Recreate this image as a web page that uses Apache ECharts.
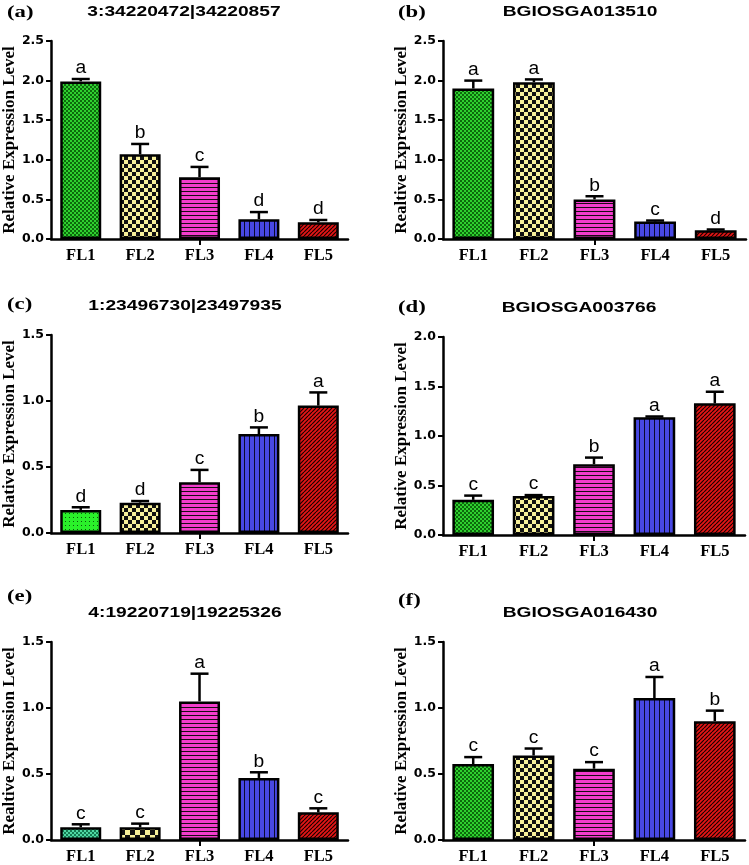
<!DOCTYPE html>
<html>
<head>
<meta charset="utf-8">
<script src="https://cdn.jsdelivr.net/npm/echarts@6/dist/echarts.min.js"></script>
<style>
html,body{margin:0;padding:0;background:#fff;}
#chart{width:749px;height:865px;}
</style>
</head>
<body>
<div id="chart"></div>
<script>
const categories = ['FL1', 'FL2', 'FL3', 'FL4', 'FL5'];

const panelTags = ['(a)', '(b)', '(c)', '(d)', '(e)', '(f)'];
const panelTitles = ['3:34220472|34220857', 'BGIOSGA013510', '1:23496730|23497935', 'BGIOSGA003766', '4:19220719|19225326', 'BGIOSGA016430'];
const yAxisNames = ['Relative Expression Level', 'Realtive Expression Level', 'Relative Expression Level', 'Relative Expression Level', 'Realtive Expression Level', 'Relative Expression Level'];
const yAxisMax = [2.5, 2.5, 1.5, 2.0, 1.5, 1.5];
const yTickInterval = [0.5, 0.5, 0.5, 0.5, 0.5, 0.5];

const aValues = [1.99, 1.07, 0.78, 0.25, 0.21];
const aErrors = [0.03, 0.13, 0.13, 0.09, 0.03];
const aLetters = ['a', 'b', 'c', 'd', 'd'];

const bValues = [1.90, 1.98, 0.50, 0.22, 0.11];
const bErrors = [0.10, 0.035, 0.04, 0.013, 0.01];
const bLetters = ['a', 'a', 'b', 'c', 'd'];

const cValues = [0.175, 0.23, 0.385, 0.75, 0.965];
const cErrors = [0.02, 0.012, 0.093, 0.05, 0.10];
const cLetters = ['d', 'd', 'c', 'b', 'a'];

const dValues = [0.355, 0.395, 0.715, 1.19, 1.33];
const dErrors = [0.043, 0.008, 0.067, 0.007, 0.117];
const dLetters = ['c', 'c', 'b', 'a', 'a'];

const eValues = [0.097, 0.096, 1.05, 0.47, 0.21];
const eErrors = [0.022, 0.028, 0.21, 0.043, 0.03];
const eLetters = ['c', 'c', 'a', 'b', 'c'];

const fValues = [0.575, 0.64, 0.54, 1.075, 0.90];
const fErrors = [0.053, 0.053, 0.05, 0.16, 0.08];
const fLetters = ['c', 'c', 'c', 'a', 'b'];

const allValues = [aValues, bValues, cValues, dValues, eValues, fValues];
const allErrors = [aErrors, bErrors, cErrors, dErrors, eErrors, fErrors];
const allLetters = [aLetters, bLetters, cLetters, dLetters, eLetters, fLetters];

// ---------- layout / style ----------
const grids = [
  {left: 50, top: 41, width: 298, height: 198},
  {left: 443, top: 41, width: 303, height: 198},
  {left: 50, top: 335, width: 298, height: 198},
  {left: 443, top: 337, width: 302, height: 198},
  {left: 50, top: 642, width: 298, height: 198},
  {left: 443, top: 642, width: 302, height: 198}
];
const tagPos = [[7, 12], [398, 12], [7, 304], [398, 307], [7, 596], [398, 600]];
const titlePos = [[184, 12], [580, 12], [185, 306], [579, 308], [185, 613], [580, 613]];

function tile(w, h, draw) {
  const c = document.createElement('canvas');
  c.width = w; c.height = h;
  const ctx = c.getContext('2d');
  draw(ctx, w, h);
  return {image: c, repeat: 'repeat'};
}
function checker(size, light, dark) {
  return tile(size * 2, size * 2, (ctx) => {
    ctx.fillStyle = light; ctx.fillRect(0, 0, size * 2, size * 2);
    ctx.fillStyle = dark;
    ctx.fillRect(0, 0, size, size);
    ctx.fillRect(size, size, size, size);
  });
}
const patGreen = checker(2, '#2fd02f', '#0c6a0c');
const patGreenDots = tile(4, 4, (ctx) => {
  ctx.fillStyle = '#2af02a'; ctx.fillRect(0, 0, 4, 4);
  ctx.fillStyle = '#0a5a0a'; ctx.fillRect(1, 1, 1, 1);
});
const patTeal = checker(2, '#4fd8a4', '#157a52');
const patYellow = checker(4, '#f7f09a', '#111111');
const patYellowBig = checker(5, '#f7f09a', '#111111');
const patPink = tile(4, 4, (ctx) => {
  ctx.fillStyle = '#f23ccc'; ctx.fillRect(0, 0, 4, 4);
  ctx.fillStyle = '#1a0a14'; ctx.fillRect(0, 3, 4, 1);
});
const patBlue = tile(5, 5, (ctx) => {
  ctx.fillStyle = '#4848e4'; ctx.fillRect(0, 0, 5, 5);
  ctx.fillStyle = '#0a0a30'; ctx.fillRect(4, 0, 1, 5);
});
const patRed = tile(4, 4, (ctx) => {
  ctx.fillStyle = '#e41616'; ctx.fillRect(0, 0, 4, 4);
  ctx.strokeStyle = '#1a0000'; ctx.lineWidth = 1.2;
  for (let k = -1; k <= 1; k++) {
    ctx.beginPath(); ctx.moveTo(k * 4, 4); ctx.lineTo(k * 4 + 4, 0); ctx.stroke();
  }
});
const panelPatterns = [
  [patGreen, patYellow, patPink, patBlue, patRed],
  [patGreen, patYellow, patPink, patBlue, patRed],
  [patGreenDots, patYellow, patPink, patBlue, patRed],
  [patGreen, patYellow, patPink, patBlue, patRed],
  [patTeal, patYellowBig, patPink, patBlue, patRed],
  [patGreen, patYellow, patPink, patBlue, patRed]
];

const xAxes = [], yAxes = [], series = [], graphics = [];
for (let p = 0; p < 6; p++) {
  xAxes.push({
    type: 'category', gridIndex: p, data: categories,
    axisLine: {lineStyle: {color: '#000', width: 2.5}},
    axisTick: {show: true, alignWithLabel: true, interval: (i) => i === 2, length: 6, lineStyle: {color: '#000', width: 2}},
    axisLabel: {color: '#000', fontFamily: 'Liberation Serif', fontWeight: 'bold', fontSize: 16.5, margin: 8}
  });
  yAxes.push({
    type: 'value', gridIndex: p, min: 0, max: yAxisMax[p], interval: yTickInterval[p],
    name: yAxisNames[p], nameLocation: 'middle', nameGap: 31,
    nameTextStyle: {color: '#000', fontFamily: 'Liberation Serif', fontWeight: 'bold', fontSize: 17},
    axisLine: {show: true, lineStyle: {color: '#000', width: 2.5}},
    axisTick: {show: true, length: 5, lineStyle: {color: '#000', width: 2}},
    splitLine: {show: false},
    axisLabel: {color: '#000', fontFamily: 'DejaVu Sans', fontWeight: 'bold', fontSize: 12.5, margin: 7,
      formatter: (v) => v.toFixed(1)}
  });
  const vals = allValues[p];
  series.push({
    type: 'bar', xAxisIndex: p, yAxisIndex: p, barCategoryGap: '31%',
    data: vals.map((v, i) => ({value: v, itemStyle: {color: panelPatterns[p][i]}})),
    itemStyle: {borderColor: '#000', borderWidth: 2.5},
    emphasis: {disabled: true}, silent: true
  });
  const errs = allErrors[p];
  const letters = allLetters[p];
  series.push({
    type: 'custom', xAxisIndex: p, yAxisIndex: p, z: 5, silent: true,
    data: vals.map((v, i) => [i, v, errs[i]]),
    renderItem: function (params, api) {
      const i = api.value(0), v = api.value(1), e = api.value(2);
      const base = api.coord([i, v]);
      const top = api.coord([i, v + e]);
      const x = base[0];
      const half = 9;
      return {
        type: 'group',
        children: [
          {type: 'line', shape: {x1: x, y1: base[1], x2: x, y2: top[1]}, style: {stroke: '#000', lineWidth: 2.5}},
          {type: 'line', shape: {x1: x - half, y1: top[1], x2: x + half, y2: top[1]}, style: {stroke: '#000', lineWidth: 2.5}},
          {type: 'text', x: x, y: top[1] - 1.5, scaleX: 1.1,
            style: {text: letters[params.dataIndex], fill: '#000', font: '17.5px "Liberation Sans"',
              align: 'center', verticalAlign: 'bottom', textAlign: 'center', textVerticalAlign: 'bottom'}}
        ]
      };
    }
  });
  graphics.push({
    type: 'text', x: tagPos[p][0], y: tagPos[p][1], scaleX: 1.3,
    style: {text: panelTags[p], fill: '#000', font: 'bold 17.5px "Liberation Serif"',
      align: 'left', verticalAlign: 'middle', textAlign: 'left', textVerticalAlign: 'middle'}
  });
  graphics.push({
    type: 'text', x: titlePos[p][0], y: titlePos[p][1], scaleX: 1.28,
    style: {text: panelTitles[p], fill: '#000', font: 'bold 15px "Liberation Sans"',
      align: 'center', verticalAlign: 'middle', textAlign: 'center', textVerticalAlign: 'middle'}
  });
}

const chart = echarts.init(document.getElementById('chart'), null, {renderer: 'canvas'});
chart.setOption({
  animation: false,
  backgroundColor: '#fff',
  grid: grids,
  xAxis: xAxes,
  yAxis: yAxes,
  series: series,
  graphic: graphics
});
</script>
</body>
</html>
